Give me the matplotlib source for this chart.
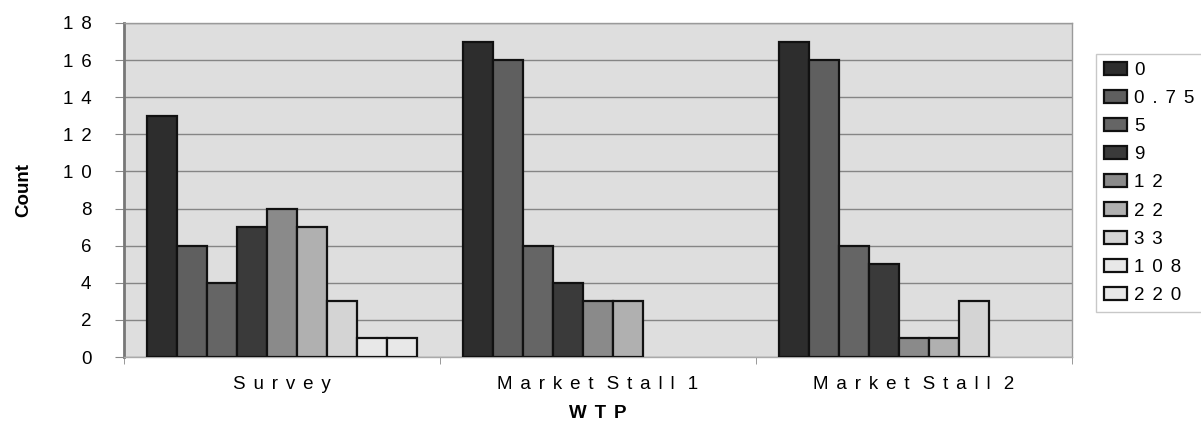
import numpy as np
import matplotlib
matplotlib.use("Agg")
import matplotlib.pyplot as plt

plt.rcParams["font.family"] = ["Liberation Sans", "DejaVu Sans"]

# old spreadsheet-style letter tracking
SEP = "\u2004\u200a"


def spaced(s):
    return (" " + SEP).join(SEP.join(w) for w in s.split())


groups = ["Survey", "Market Stall 1", "Market Stall 2"]
wtp_labels = ["0", "0.75", "5", "9", "12", "22", "33", "108", "220"]
survey = [13, 6, 4, 7, 8, 7, 3, 1, 1]
stall1 = [17, 16, 6, 4, 3, 3, 0, 0, 0]
stall2 = [17, 16, 6, 5, 1, 1, 3, 0, 0]
yticks = [0, 2, 4, 6, 8, 10, 12, 14, 16, 18]

colors = ["#2d2d2d", "#5f5f5f", "#656565", "#3a3a3a", "#8a8a8a",
          "#b0b0b0", "#d4d4d4", "#e8e8e8", "#e8e8e8"]

counts = np.array([survey, stall1, stall2])
FS = 13.5

fig = plt.figure(figsize=(12.01, 4.24), dpi=100)
ax = fig.add_axes([0.1032, 0.158, 0.7894, 0.7878])
ax.set_facecolor("#dedede")

bw = 0.095
x = np.arange(len(groups))
for i, lbl in enumerate(wtp_labels):
    bars = ax.bar(x - 4 * bw + i * bw, counts[:, i], width=bw, color=colors[i],
                  edgecolor="#111111", linewidth=1.6, label=spaced(lbl), zorder=3)
    # empty categories get no bar outline
    for b, v in zip(bars, counts[:, i]):
        if v == 0:
            b.set_visible(False)

ax.set_xlim(-0.5, 2.5)
ax.set_ylim(0, 18)
ax.set_yticks(yticks)
ax.set_yticklabels([spaced(str(v)) for v in yticks], fontsize=FS)
ax.yaxis.grid(True, color="#858585", linewidth=1.0, zorder=0)
ax.set_xticks(x)
ax.set_xticklabels([spaced(g) for g in groups], fontsize=FS)
ax.tick_params(axis="x", length=0, pad=14)
ax.set_xticks([-0.5, 0.5, 1.5, 2.5], minor=True)
ax.tick_params(axis="x", which="minor", length=5, color="#888888")
ax.tick_params(axis="y", length=6.5, color="#888888", pad=17)

for s in ax.spines.values():
    s.set_color("#9a9a9a")
    s.set_linewidth(1.0)
ax.spines["left"].set_color("#777777")
ax.spines["left"].set_linewidth(2)
ax.spines["bottom"].set_color("#aaaaaa")

ax.set_ylabel("Count", fontsize=FS, fontweight="bold", labelpad=22)
ax.set_xlabel(spaced("WTP"), fontsize=FS, fontweight="bold", labelpad=8)

fig.legend(loc="upper left", bbox_to_anchor=(1096 / 1201, 1 - 54 / 424),
           fontsize=FS, frameon=True, fancybox=False, edgecolor="#bbbbbb",
           handlelength=1.23, handleheight=0.7, handletextpad=0.4,
           labelspacing=0.59, borderpad=0.4, borderaxespad=0)

fig.savefig("out.png", dpi=100)
